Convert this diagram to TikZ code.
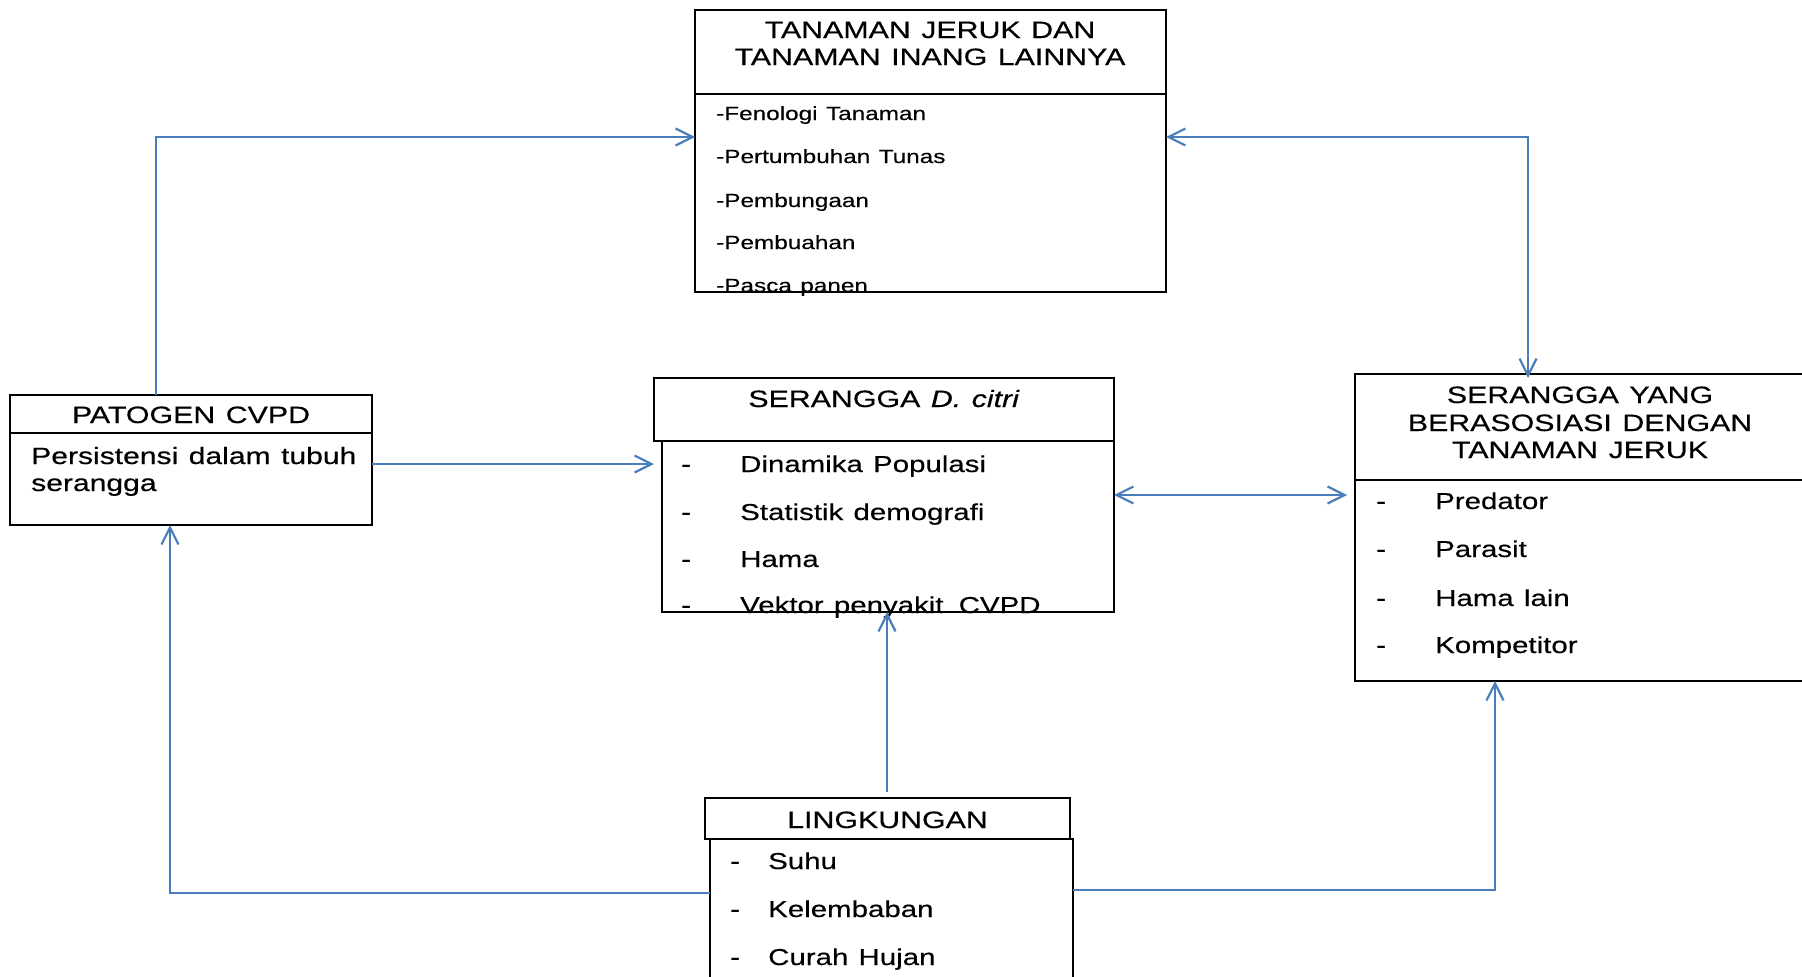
\documentclass[tikz,border=0pt]{standalone}
\usepackage{fontspec}
\setmainfont{Liberation Sans}[FakeStretch=1.28, WordSpace=1.25, FakeBold=0.4]
\usetikzlibrary{arrows.meta}
\definecolor{lineblue}{RGB}{74,126,187}
\begin{document}
\begin{tikzpicture}[x=1pt,y=-1pt,
  box/.style={draw=black, line width=1.4pt, inner sep=0pt, outer sep=0pt, anchor=north west},
  conn/.style={draw=lineblue, line width=2pt, -{Straight Barb[length=17pt,width=17pt,line width=2.2pt]}},
  dconn/.style={draw=lineblue, line width=2pt, {Straight Barb[length=17pt,width=17pt,line width=2.2pt]}-{Straight Barb[length=17pt,width=17pt,line width=2.2pt]}},
  sep/.style={draw=black, line width=1.4pt},
  hdr/.style={font=\fontsize{23.7}{27}\selectfont, anchor=base, inner sep=0pt},
  item/.style={font=\fontsize{23}{27}\selectfont, anchor=base west, inner sep=0pt},
  bitem/.style={font=\fontsize{23.5}{28}\selectfont, anchor=base west, inner sep=0pt},
  sitem/.style={font=\fontsize{19}{23}\selectfont, anchor=base west, inner sep=0pt}
]
\useasboundingbox (0,0) rectangle (1802,977);

% ---- boxes ----
\node[box, minimum width=471pt, minimum height=282pt] (top) at (695,10) {};
\node[box, minimum width=362pt, minimum height=130pt] (pat) at (10,395) {};
\node[box, minimum width=460pt, minimum height=63pt] (citrihead) at (654,378) {};
\node[box, minimum width=452pt, minimum height=171pt] (citribody) at (662,441) {};
\node[box, minimum width=450pt, minimum height=307pt] (rbox) at (1355,374) {};
\node[box, minimum width=365pt, minimum height=41pt] (linghead) at (705,798) {};
\node[box, minimum width=363pt, minimum height=200pt] (lingbody) at (710,839) {};

% header separators
\coordinate (s1) at (0,94);
\draw[sep] (top.west |- s1) -- (top.east |- s1);
\coordinate (s2) at (0,433);
\draw[sep] (pat.west |- s2) -- (pat.east |- s2);
\coordinate (s3) at (0,480);
\draw[sep] (rbox.west |- s3) -- (rbox.east |- s3);

% ---- texts: top box ----
\node[hdr] (t1) at (930,38) {TANAMAN JERUK DAN};
\node[hdr] (t2) at (930,65) {TANAMAN INANG LAINNYA};
\node[sitem] (ta) at (716,120) {-Fenologi Tanaman};
\node[sitem] (tb) at (716,163) {-Pertumbuhan Tunas};
\node[sitem] (tc) at (716,207) {-Pembungaan};
\node[sitem] (td) at (716,249) {-Pembuahan};
\node[sitem] (te) at (716,292) {-Pasca panen};

% ---- patogen ----
\node[hdr] (p1) at (191,423) {PATOGEN CVPD};
\node[bitem] (pa) at (31,464) {Persistensi dalam tubuh};
\node[bitem] (pb) at (31,491) {serangga};

% ---- D. citri ----
\node[hdr] (c1) at (884,407) {SERANGGA \textit{D. citri}};
\foreach \y/\t [count=\i] in {472/Dinamika Populasi, 520/Statistik demografi, 567/Hama, 613/Vektor penyakit\hspace{5pt} CVPD}{
  \node[item] (cd\i) at (681,\y) {-};
  \node[item] (ct\i) at (740,\y) {\t};
}

% ---- right box ----
\node[hdr] (r1) at (1580,403) {SERANGGA YANG};
\node[hdr] (r2) at (1580,431) {BERASOSIASI DENGAN};
\node[hdr] (r3) at (1580,458) {TANAMAN JERUK};
\foreach \y/\t [count=\i] in {509/Predator, 557/Parasit, 606/Hama lain, 653/Kompetitor}{
  \node[item] (rd\i) at (1376,\y) {-};
  \node[item] (rt\i) at (1435,\y) {\t};
}

% ---- lingkungan ----
\node[hdr] (l1) at (887.5,828) {LINGKUNGAN};
\foreach \y/\t [count=\i] in {869/Suhu, 917/Kelembaban, 965/Curah Hujan}{
  \node[item] (ld\i) at (730,\y) {-};
  \node[item] (lt\i) at (768,\y) {\t};
}

% ---- connectors ----
\coordinate (k1) at (156,137);
\draw[conn] (k1 |- pat.north) -- (k1) -- (k1 -| top.west);

\coordinate (k2) at (1528,137);
\draw[dconn] (k2 -| top.east) -- (k2) -- ([yshift=-4pt]k2 |- rbox.north);

\coordinate (k3) at (0,464);
\draw[conn] (k3 -| pat.east) -- (k3 -| citrihead.west);

\coordinate (k4) at (0,495);
\draw[dconn, shorten >=8pt] (k4 -| citribody.east) -- (k4 -| rbox.west);

\coordinate (k5) at (887,792);
\draw[conn] (k5) -- (k5 |- citribody.south);

\coordinate (k6) at (170,893);
\draw[conn] (k6 -| lingbody.west) -- (k6) -- (k6 |- pat.south);

\coordinate (k7) at (1495,890);
\draw[conn] (k7 -| lingbody.east) -- (k7) -- (k7 |- rbox.south);
\end{tikzpicture}
\end{document}
